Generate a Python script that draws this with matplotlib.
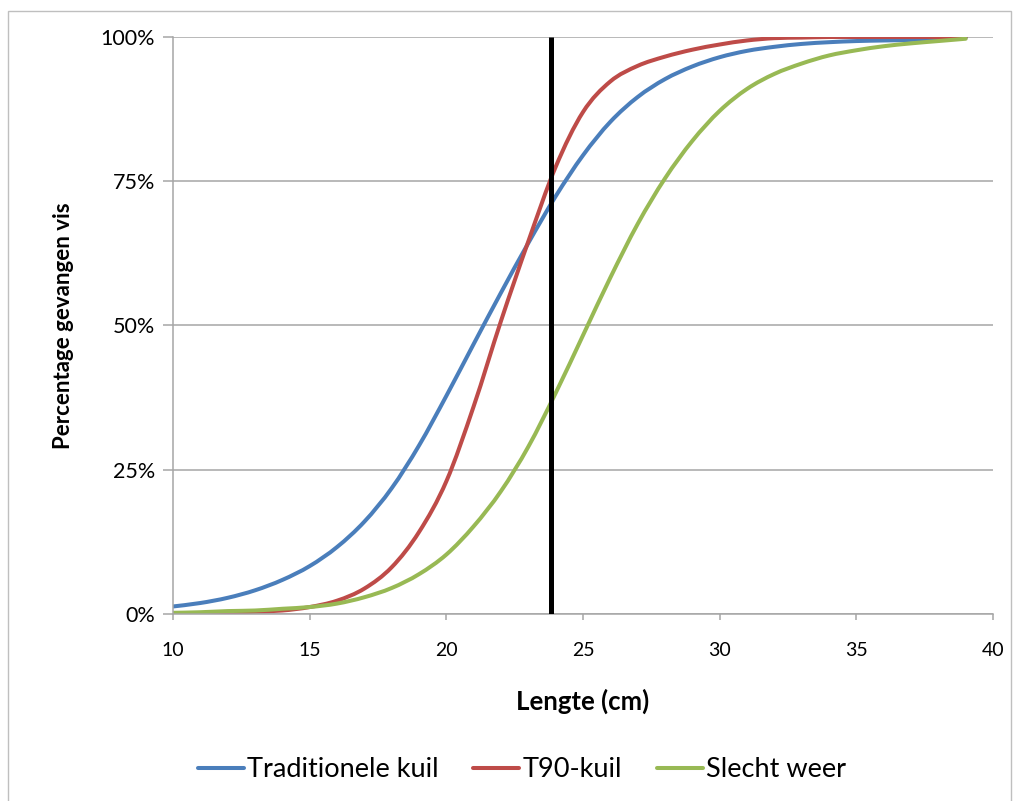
import numpy as np
import matplotlib.pyplot as plt
from matplotlib.patches import Rectangle, PathPatch
from matplotlib.path import Path
from matplotlib.lines import Line2D
from matplotlib.ticker import PercentFormatter

plt.rcParams['font.family'] = ['Lato', 'DejaVu Sans']

# lengte in cm
lengte = list(range(10, 40))

# cumulatief percentage gevangen vis
traditioneel = [1.3, 1.9, 2.8, 4.1, 5.9, 8.3, 11.6, 16.0, 21.8, 29.2,
                37.8, 46.8, 55.7, 64.3, 72.4, 79.5, 85.3, 89.6, 92.7, 94.9,
                96.5, 97.6, 98.3, 98.8, 99.1, 99.3, 99.4, 99.5, 99.7, 99.9]
t90 = [0.0, 0.1, 0.2, 0.4, 0.6, 1.2, 2.3, 4.4, 8.1, 14.2,
       23.0, 36.0, 50.8, 64.6, 77.5, 87.0, 92.3, 95.0, 96.6, 97.8,
       98.7, 99.4, 99.8, 99.9, 100.0, 100.0, 100.0, 100.0, 100.0, 100.0]
slecht_weer = [0.2, 0.3, 0.5, 0.6, 0.9, 1.2, 1.8, 2.9, 4.5, 6.9,
               10.3, 15.2, 21.3, 29.0, 38.3, 48.3, 58.3, 67.6, 75.5, 82.0,
               87.2, 91.0, 93.6, 95.4, 96.8, 97.7, 98.4, 98.9, 99.3, 99.7]

mls = 23.83  # verticale lijn

labels = ['Traditionele kuil', 'T90-kuil', 'Slecht weer']
colors = ['#4A7EBB', '#BE4B48', '#98B954']


def smooth_path(x, y):
    # vloeiende lijn zoals in Excel (bezier door de punten)
    p = np.column_stack([x, y]).astype(float)
    verts = [p[0]]
    codes = [Path.MOVETO]
    n = len(p)
    for i in range(n - 1):
        p_prev = p[i - 1] if i > 0 else p[i]
        p_next2 = p[i + 2] if i + 2 < n else p[i + 1]
        c1 = p[i] + (p[i + 1] - p_prev) / 6
        c2 = p[i + 1] - (p_next2 - p[i]) / 6
        verts += [c1, c2, p[i + 1]]
        codes += [Path.CURVE4] * 3
    return Path(verts, codes)


fig = plt.figure(figsize=(10.19, 8.01), dpi=100)
ax = fig.add_axes([0.1698, 0.2335, 0.8047, 0.7203])

handles = []
for data, lab, col in zip([traditioneel, t90, slecht_weer], labels, colors):
    ax.add_patch(PathPatch(smooth_path(lengte, data), fill=False, edgecolor=col,
                           lw=2.9, joinstyle='round', capstyle='round'))
    handles.append(Line2D([], [], color=col, lw=2.9, solid_capstyle='round'))

ax.plot([mls, mls], [0, 100], color='black', lw=3.6, solid_capstyle='butt', zorder=5)

ax.set_xlim(10, 40)
ax.set_ylim(0, 100)
ax.set_xticks(range(10, 41, 5))
ax.set_yticks([0, 25, 50, 75, 100])
ax.yaxis.set_major_formatter(PercentFormatter(decimals=0))
ax.grid(axis='y', color='#A6A6A6', lw=1.1)
ax.set_axisbelow(True)

for s in ['top', 'right']:
    ax.spines[s].set_visible(False)
for s in ['left', 'bottom']:
    ax.spines[s].set_color('#A6A6A6')
    ax.spines[s].set_linewidth(1.1)

ax.tick_params(axis='x', direction='out', length=4.5, width=1.1, color='#A6A6A6',
               labelsize=14, pad=16)
ax.tick_params(axis='y', direction='out', length=7, width=1.1, color='#A6A6A6',
               labelsize=15.5, pad=6)

ax.set_xlabel('Lengte (cm)', fontsize=18.5, fontweight='bold', labelpad=21)
ax.set_ylabel('Percentage gevangen vis', fontsize=16, fontweight='bold', labelpad=19)

fig.legend(handles, labels, loc='center', bbox_to_anchor=(0.512, 0.039), ncol=3,
           frameon=False, fontsize=19.5, handlelength=1.7, handletextpad=0.1,
           columnspacing=1.3)

# rand rond het diagram
fig.patches.append(Rectangle((0.0079, -0.01), 0.984, 0.996, transform=fig.transFigure,
                             fill=False, edgecolor='#BFBFBF', lw=1.0))

fig.savefig('out.png', dpi=100)
